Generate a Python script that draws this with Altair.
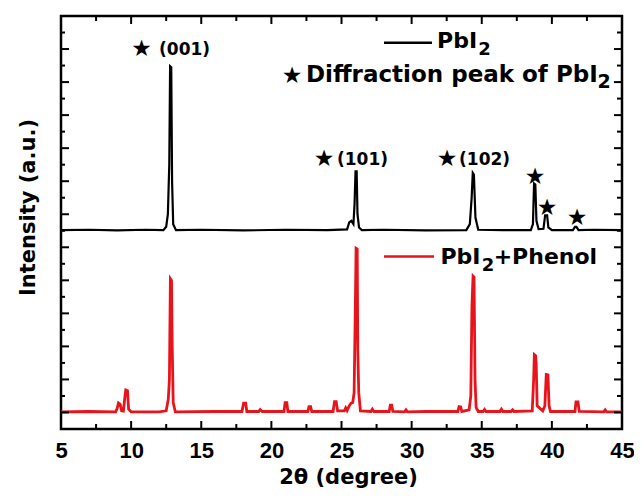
import altair as alt
import pandas as pd

# ---------------- data ----------------
# PbI2 pattern (black, offset upward)
black_two_theta = [5.0, 7.0, 9.0, 11.0, 12.3, 12.5, 12.62, 12.72, 12.78, 12.86, 12.92, 13.0, 13.2,
                   15.0, 18.0, 21.0, 24.0, 25.4, 25.55, 25.7, 25.85, 25.93, 26.0, 26.08, 26.14,
                   26.25, 26.45, 28.0, 31.0, 33.9, 34.15, 34.28, 34.36, 34.44, 34.55, 34.75,
                   36.5, 38.5, 38.65, 38.73, 38.82, 38.9, 39.05, 39.4, 39.52, 39.66, 39.75,
                   40.0, 41.5, 41.65, 41.75, 41.9, 43.0, 45.0]
black_intensity = [5.52, 5.53, 5.51, 5.53, 5.52, 5.62, 6.0, 7.5, 10.48, 10.45, 7.0, 5.7, 5.52,
                   5.53, 5.51, 5.53, 5.52, 5.54, 5.75, 5.8, 5.7, 6.3, 7.3, 7.3, 6.0,
                   5.6, 5.52, 5.53, 5.51, 5.52, 5.7, 6.5, 7.25, 7.2, 5.9, 5.53,
                   5.52, 5.52, 5.7, 6.93, 6.9, 5.8, 5.55, 5.56, 5.97, 5.97, 5.6,
                   5.52, 5.52, 5.62, 5.62, 5.52, 5.53, 5.52]

# PbI2 + Phenol pattern (red)
red_two_theta = [5.0, 7.0, 8.9, 9.0, 9.1, 9.22, 9.32, 9.45, 9.55, 9.62, 9.74, 9.82, 10.0,
                 12.0, 12.5, 12.65, 12.73, 12.8, 12.88, 12.93, 13.0, 13.15,
                 16.0, 17.9, 18.02, 18.17, 18.25, 19.1, 19.2, 19.35, 20.9, 20.98, 21.1, 21.18,
                 22.6, 22.68, 22.8, 22.88, 24.4, 24.5, 24.62, 24.72, 25.2, 25.3, 25.4,
                 25.55, 25.68, 25.8, 25.9, 25.98, 26.04, 26.12, 26.16, 26.23, 26.35,
                 27.1, 27.2, 27.3, 28.4, 28.48, 28.58, 28.66, 29.5, 29.6, 29.7, 31.0,
                 33.3, 33.38, 33.5, 33.58, 34.1, 34.22, 34.3, 34.38, 34.45, 34.52, 34.6, 34.75,
                 35.1, 35.2, 35.3, 36.3, 36.4, 36.5, 37.1, 37.2, 37.3,
                 38.6, 38.7, 38.75, 38.84, 38.88, 38.95, 39.35, 39.5, 39.6, 39.72, 39.8, 39.9,
                 41.65, 41.72, 41.86, 41.95, 43.7, 43.8, 43.9, 45.0]
red_intensity = [0.02, 0.03, 0.02, 0.12, 0.29, 0.25, 0.05, 0.04, 0.45, 0.68, 0.66, 0.1, 0.02,
                 0.02, 0.05, 0.4, 1.0, 4.05, 4.0, 2.0, 0.3, 0.02,
                 0.03, 0.03, 0.28, 0.28, 0.03, 0.03, 0.09, 0.03, 0.03, 0.3, 0.3, 0.03,
                 0.03, 0.18, 0.18, 0.03, 0.03, 0.33, 0.33, 0.05, 0.05, 0.14, 0.06,
                 0.2, 0.28, 0.3, 0.6, 3.0, 4.97, 4.95, 1.9, 0.6, 0.05,
                 0.03, 0.1, 0.03, 0.03, 0.22, 0.22, 0.03, 0.02, 0.08, 0.02, 0.03,
                 0.03, 0.18, 0.17, 0.03, 0.08, 0.5, 3.2, 4.13, 4.1, 1.0, 0.15, 0.03,
                 0.03, 0.09, 0.03, 0.03, 0.1, 0.03, 0.03, 0.08, 0.03,
                 0.05, 1.0, 1.75, 1.72, 1.5, 0.2, 0.05, 0.2, 1.15, 1.14, 0.2, 0.03,
                 0.03, 0.32, 0.32, 0.03, 0.02, 0.08, 0.02, 0.02]

x_major_ticks = [5, 10, 15, 20, 25, 30, 35, 40, 45]
x_minor_ticks = [7.5, 12.5, 17.5, 22.5, 27.5, 32.5, 37.5, 42.5]
y_major_ticks = [0, 1, 2, 3, 4, 5, 6, 7, 8, 9, 10, 11]
y_minor_ticks = [0.5, 1.5, 2.5, 3.5, 4.5, 5.5, 6.5, 7.5, 8.5, 9.5, 10.5, 11.5]

# peak labels
hkl_labels = ["(001)", "(101)", "(102)"]
hkl_x = [11.99, 24.68, 33.38]
hkl_y = [10.82, 7.49, 7.49]
star_x = [10.75, 23.75, 32.52, 38.8, 39.65, 41.79, 21.47]
star_y = [11.0, 7.67, 7.67, 7.13, 6.2, 5.89, 10.18]

# legend
legend_line_x = [28.03, 28.03]
legend_line_x2 = [31.45, 31.6]
legend_line_y = [11.19, 4.72]
legend_colors = ["black", "#e8141c"]
legend_main_text = ["PbI", "PbI"]
legend_main_x = [31.81, 32.05]
legend_main_y = [11.03, 4.5]
legend_sub_x = [34.75, 35.0]
legend_sub_y = [10.82, 4.28]
diffraction_text = ["Diffraction peak of PbI"]
diffraction_x = [22.47]
diffraction_y = [10.01]
diffraction_sub_x = [43.25]
diffraction_sub_y = [9.82]
legend_after_text = ["+Phenol"]
legend_after_x = [35.85]
legend_after_y = [4.5]

# ---------------- chart ----------------
W, H = 561, 413
FONT = "DejaVu Sans"
RED = "#e8141c"
XS = alt.Scale(domain=[5, 45], nice=False, zero=False)
YS = alt.Scale(domain=[-0.5, 12], nice=False, zero=False)

black_df = pd.DataFrame({"two_theta": black_two_theta, "intensity": black_intensity})
red_df = pd.DataFrame({"two_theta": red_two_theta, "intensity": red_intensity})

black_line = alt.Chart(black_df).mark_line(color="black", strokeWidth=2.2).encode(
    x=alt.X("two_theta:Q", scale=XS,
            axis=alt.Axis(values=x_major_ticks, format="d", grid=False, domain=False,
                          ticks=False, tickSize=0, labelPadding=11,
                          labelFont="Liberation Sans", labelFontSize=22, labelFontWeight="bold",
                          labelColor="black", labelFlush=False,
                          title="2θ (degree)", titleFont=FONT, titleFontSize=21,
                          titleFontWeight="bold", titleColor="black", titlePadding=5,
                          titleX=287)),
    y=alt.Y("intensity:Q", scale=YS,
            axis=alt.Axis(labels=False, ticks=False, tickSize=0, domain=False, grid=False,
                          title="Intensity (a.u.)", titleFont=FONT, titleFontSize=21,
                          titleFontWeight="bold", titleColor="black", titlePadding=23,
                          titleY=191)),
)
red_line = alt.Chart(red_df).mark_line(color=RED, strokeWidth=2.8).encode(
    x=alt.X("two_theta:Q", scale=XS), y=alt.Y("intensity:Q", scale=YS))

xmaj = pd.DataFrame({"two_theta": x_major_ticks})
xmin = pd.DataFrame({"two_theta": x_minor_ticks})
ymaj = pd.DataFrame({"intensity": y_major_ticks})
ymin = pd.DataFrame({"intensity": y_minor_ticks})


def xt(df, y0, y1):
    return alt.Chart(df).mark_rule(color="black", strokeWidth=2).encode(
        x=alt.X("two_theta:Q", scale=XS), y=alt.value(y0), y2=alt.value(y1))


def yt(df, x0, x1):
    return alt.Chart(df).mark_rule(color="black", strokeWidth=2).encode(
        y=alt.Y("intensity:Q", scale=YS), x=alt.value(x0), x2=alt.value(x1))


ticks = [xt(xmaj, H, H - 8), xt(xmin, H, H - 5), xt(xmaj, 0, 8), xt(xmin, 0, 5),
         yt(ymaj, 0, 8), yt(ymin, 0, 4), yt(ymaj, W, W - 8), yt(ymin, W, W - 5)]


def text_layer(xs, ys, labels, size, align="left", baseline="alphabetic", weight="bold"):
    df = pd.DataFrame({"two_theta": xs, "intensity": ys, "label": labels})
    return alt.Chart(df).mark_text(font=FONT, fontSize=size, fontWeight=weight, align=align,
                                   baseline=baseline, color="black").encode(
        x=alt.X("two_theta:Q", scale=XS), y=alt.Y("intensity:Q", scale=YS), text="label:N")


hkl_text = text_layer(hkl_x, hkl_y, hkl_labels, 17)
stars = text_layer(star_x, star_y, ["★"] * len(star_x), 23, align="center",
                   baseline="middle", weight="normal")

leg_df = pd.DataFrame({"two_theta": legend_line_x, "x2": legend_line_x2,
                       "intensity": legend_line_y, "c": legend_colors})
leg_lines = alt.Chart(leg_df).mark_rule(strokeWidth=2.5).encode(
    x=alt.X("two_theta:Q", scale=XS), x2="x2:Q", y=alt.Y("intensity:Q", scale=YS),
    color=alt.Color("c:N", scale=None))

main_text = text_layer(legend_main_x, legend_main_y, legend_main_text, 22)
sub_text = text_layer(legend_sub_x, legend_sub_y, ["2"] * len(legend_sub_x), 18)
diff_text = text_layer(diffraction_x, diffraction_y, diffraction_text, 23)
diff_sub = text_layer(diffraction_sub_x, diffraction_sub_y, ["2"], 19)
after_text = text_layer(legend_after_x, legend_after_y, legend_after_text, 22)

chart = alt.layer(black_line, red_line, *ticks, hkl_text, stars, leg_lines,
                  main_text, sub_text, diff_text, diff_sub, after_text).properties(
    width=W, height=H,
    autosize=alt.AutoSizeParams(type="none"),
    padding={"left": 53, "top": 8, "right": 12, "bottom": 60},
    background="white",
).configure_view(stroke="black", strokeWidth=2.5)

chart.save("out.html", embed_options={"renderer": "svg", "actions": False})
